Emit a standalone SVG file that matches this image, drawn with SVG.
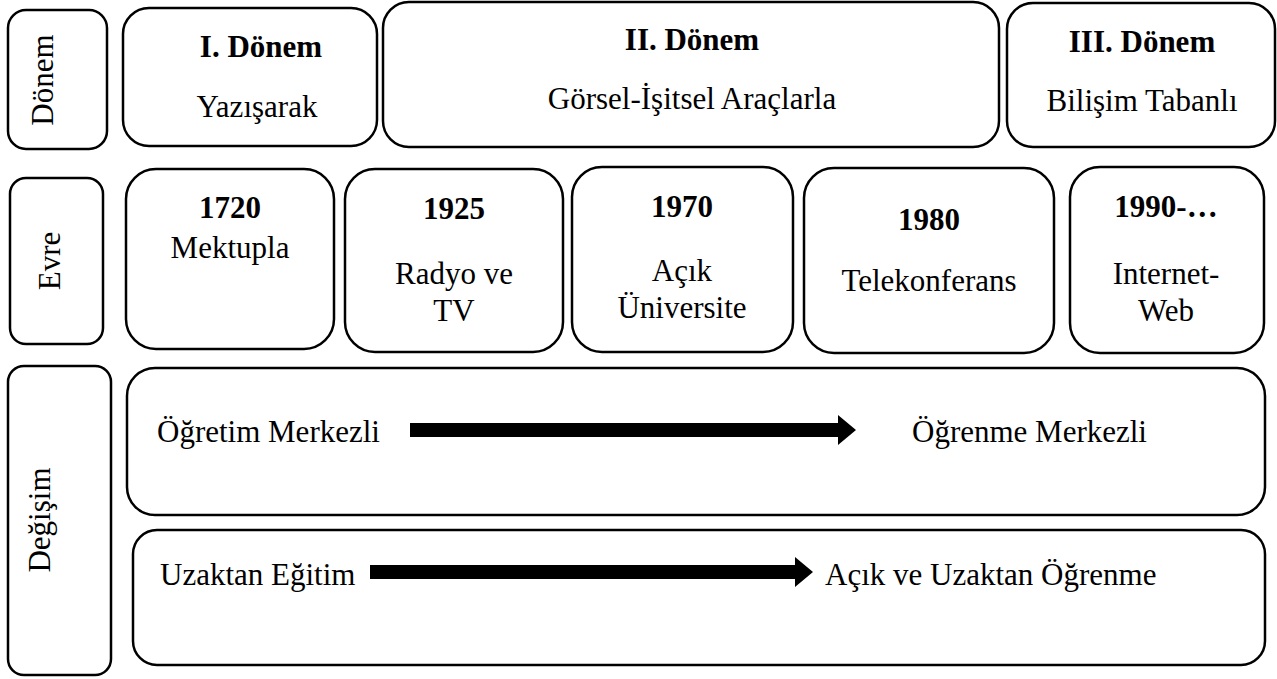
<svg xmlns="http://www.w3.org/2000/svg" width="1277" height="679" viewBox="0 0 1277 679">
<style>
.b{fill:#fff;stroke:#000;stroke-width:2.5}
text{font-family:'Liberation Serif','Times New Roman',serif;fill:#000;font-size:31px}
.h{font-weight:bold}
.c{text-anchor:middle}
</style>
<rect width="1277" height="679" fill="#fff"/>
<g id="lbl-donem"><rect class="b" x="8" y="10" width="99" height="139" rx="18"/><text class="c" transform="translate(53,80) rotate(-90)">Dönem</text></g>
<g id="donem1"><rect class="b" x="123" y="8" width="254" height="138" rx="26"/><text class="h c" x="261" y="57">I. Dönem</text><text class="c" x="257" y="117">Yazışarak</text></g>
<g id="donem2"><rect class="b" x="383" y="2" width="616" height="145" rx="26"/><text class="h c" x="692" y="50">II. Dönem</text><text class="c" x="692" y="109">Görsel-İşitsel Araçlarla</text></g>
<g id="donem3"><rect class="b" x="1007" y="3" width="268" height="144" rx="26"/><text class="h c" x="1142" y="52">III. Dönem</text><text class="c" x="1142" y="111">Bilişim Tabanlı</text></g>

<g id="lbl-evre"><rect class="b" x="10" y="178" width="93" height="166" rx="16"/><text class="c" transform="translate(60,261) rotate(-90)">Evre</text></g>
<g id="evre1720"><rect class="b" x="126" y="169" width="208" height="180" rx="30"/><text class="h c" x="230" y="218">1720</text><text class="c" x="230" y="258">Mektupla</text></g>
<g id="evre1925"><rect class="b" x="345" y="169" width="218" height="183" rx="30"/><text class="h c" x="454" y="219">1925</text><text class="c" x="454" y="284">Radyo ve</text><text class="c" x="454" y="321">TV</text></g>
<g id="evre1970"><rect class="b" x="572" y="167" width="221" height="185" rx="30"/><text class="h c" x="682" y="217">1970</text><text class="c" x="682" y="281">Açık</text><text class="c" x="682" y="318">Üniversite</text></g>
<g id="evre1980"><rect class="b" x="804" y="168" width="250" height="185" rx="30"/><text class="h c" x="929" y="230">1980</text><text class="c" x="929" y="291">Telekonferans</text></g>
<g id="evre1990"><rect class="b" x="1070" y="167" width="194" height="186" rx="30"/><text class="h c" x="1166" y="217">1990-…</text><text class="c" x="1166" y="284">Internet-</text><text class="c" x="1166" y="321">Web</text></g>

<g id="lbl-degisim"><rect class="b" x="8" y="366" width="103" height="309" rx="16"/><text class="c" transform="translate(50,520) rotate(-90)">Değişim</text></g>
<g id="degisim1"><rect class="b" x="127" y="368" width="1138" height="147" rx="28"/><text x="157" y="442">Öğretim Merkezli</text><text x="912" y="442">Öğrenme Merkezli</text></g>
<g id="degisim2"><rect class="b" x="133" y="530" width="1132" height="135" rx="24"/><text x="160" y="585">Uzaktan Eğitim</text><text x="825" y="585">Açık ve Uzaktan Öğrenme</text></g>

<g id="connectors">
<polygon points="410,423 838,423 838,415 856,430 838,445 838,437 410,437"/>
<polygon points="370,565 795,565 795,557 813,572 795,587 795,579 370,579"/>
</g>
</svg>
